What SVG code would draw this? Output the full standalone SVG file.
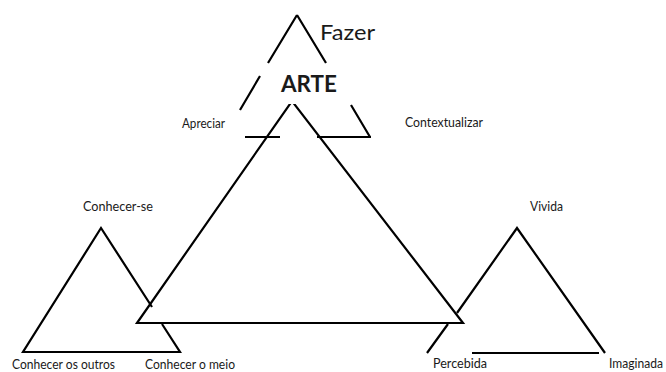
<svg xmlns="http://www.w3.org/2000/svg" width="666" height="372" viewBox="0 0 666 372">
<style>
.ln{fill:none;stroke:#000;stroke-width:2.2;stroke-linecap:butt}
.big{fill:#fff;stroke:#000;stroke-width:2.2;stroke-linejoin:miter}
.t{font-family:Lato,"Liberation Sans",sans-serif;fill:#1a1a1a}
.s{font-size:12.5px}
</style>
<rect width="666" height="372" fill="#fff"/>
<g id="node-arte">
<polygon class="big" points="137,323 292,101 463,323"/>
<rect x="262" y="64" width="92" height="40" fill="#fff"/>
<text class="t" x="281" y="92" font-size="22" font-weight="bold" textLength="56" lengthAdjust="spacingAndGlyphs">ARTE</text>
</g>
<g id="node-fazer">
<path class="ln" d="M297,15 L268,63 M260,76 L240,110 M297,15 L326,63 M351,105 L370,137 M245,137 L280,137 M317,137 L371,137"/>
<text class="t" x="320" y="40" font-size="22" textLength="55" lengthAdjust="spacingAndGlyphs">Fazer</text>
<text class="t s" x="182" y="128" textLength="43" lengthAdjust="spacingAndGlyphs">Apreciar</text>
<text class="t s" x="405" y="127" textLength="78" lengthAdjust="spacingAndGlyphs">Contextualizar</text>
</g>
<g id="node-conhecer">
<path class="ln" d="M152,307 L101,228 L23,352 L155,352 M162,324 L180,352 L155,352"/>
<text class="t s" x="83" y="211" textLength="70" lengthAdjust="spacingAndGlyphs">Conhecer-se</text>
<text class="t s" x="12" y="369" textLength="103" lengthAdjust="spacingAndGlyphs">Conhecer os outros</text>
<text class="t s" x="145" y="369" textLength="90" lengthAdjust="spacingAndGlyphs">Conhecer o meio</text>
</g>
<g id="node-vivida">
<path class="ln" d="M457,313 L517,228 L605,353 M448,324 L427,353 M472,353 L599,353"/>
<text class="t s" x="530" y="211" textLength="33" lengthAdjust="spacingAndGlyphs">Vivida</text>
<text class="t s" x="433" y="368" textLength="54" lengthAdjust="spacingAndGlyphs">Percebida</text>
<text class="t s" x="609" y="368" textLength="54" lengthAdjust="spacingAndGlyphs">Imaginada</text>
</g>
<g id="connectors"></g>
</svg>
